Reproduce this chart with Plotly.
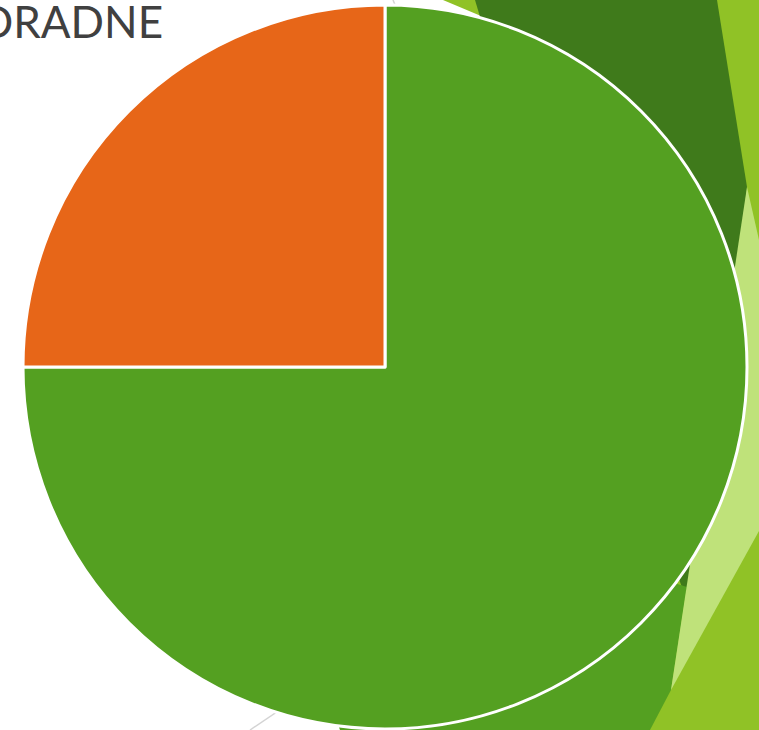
import plotly.graph_objects as go

# ---- data ----
labels = ["Da", "Ne"]
values = [75, 25]
slice_colors = ["#54A021", "#E76618"]
title_text = "ORADNE"

W, H = 759, 730


def P(x, y):
    return f"{x / W:.5f},{1 - y / H:.5f}"


def poly(points):
    return "M " + " L ".join(P(x, y) for x, y in points) + " Z"


shapes = []


def add_poly(points, color):
    shapes.append(dict(type="path", xref="paper", yref="paper", path=poly(points),
                       fillcolor=color, line=dict(width=0), layer="below"))


# background decoration (theme shapes)
add_poly([(443, 0), (759, 0), (759, 730), (340, 730), (330, 640), (420, 200), (481, 16)], "#90C226")
add_poly([(475, 0), (717, 0), (747, 187), (705, 592), (683, 590), (520, 150)], "#3F7A1B")
add_poly([(340, 730), (650, 730), (671, 690), (687, 587), (600, 560), (300, 600)], "#54A021")
add_poly([(747, 187), (759, 240), (759, 531), (671, 690)], "#BFE27A")

for (x0, y0, x1, y1) in [(250, 730, 330, 676), (393, 0, 398, 12)]:
    shapes.append(dict(type="line", xref="paper", yref="paper",
                       x0=x0 / W, y0=1 - y0 / H, x1=x1 / W, y1=1 - y1 / H,
                       line=dict(color="#D4D4D4", width=1.5), layer="below"))

cx, cy, r = 385, 367, 362

fig = go.Figure(go.Pie(
    labels=labels,
    values=values,
    sort=False,
    direction="clockwise",
    rotation=0,
    marker=dict(colors=slice_colors, line=dict(color="white", width=3)),
    textinfo="none",
    hoverinfo="label+percent",
    showlegend=False,
    domain=dict(x=[(cx - r) / W, (cx + r) / W], y=[1 - (cy + r) / H, 1 - (cy - r) / H]),
))

fig.update_layout(
    width=W, height=H,
    margin=dict(l=0, r=0, t=0, b=0),
    paper_bgcolor="white",
    plot_bgcolor="white",
    shapes=shapes,
    annotations=[dict(text=title_text, xref="paper", yref="paper",
                      x=-24 / W, y=1 - 21 / H, xanchor="left", yanchor="middle",
                      showarrow=False,
                      font=dict(family="Lato", size=44, color="#404040"))],
)

fig.write_html("out.html", config={"displayModeBar": False},
               post_script="document.body.style.margin='0';document.body.style.overflow='hidden';")
